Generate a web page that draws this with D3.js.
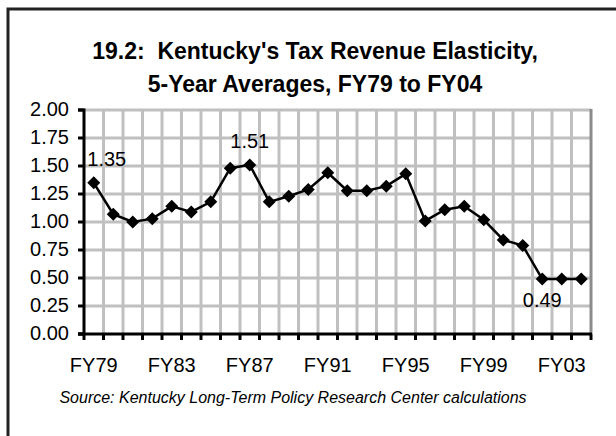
<!DOCTYPE html>
<html>
<head>
<meta charset="utf-8">
<script src="https://cdn.jsdelivr.net/npm/d3@7"></script>
<style>
  html, body { margin: 0; padding: 0; background: #fff; }
  svg { display: block; font-family: "Liberation Sans", Arial, sans-serif; }
</style>
</head>
<body>
<svg id="chart" width="616" height="436"></svg>
<script>
// Fiscal years and 5-year average elasticity values
const years = ["FY79","FY80","FY81","FY82","FY83","FY84","FY85","FY86","FY87","FY88",
               "FY89","FY90","FY91","FY92","FY93","FY94","FY95","FY96","FY97","FY98",
               "FY99","FY00","FY01","FY02","FY03","FY04"];
const elasticity = [1.35,1.07,1.00,1.03,1.14,1.09,1.18,1.48,1.51,1.18,
                    1.23,1.29,1.44,1.28,1.28,1.32,1.43,1.01,1.11,1.14,
                    1.02,0.84,0.79,0.49,0.49,0.49];
const yTicks = [0,0.25,0.5,0.75,1,1.25,1.5,1.75,2];
const xTickLabels = ["FY79","FY83","FY87","FY91","FY95","FY99","FY03"];
const titleLines = ["19.2:  Kentucky's Tax Revenue Elasticity,", "5-Year Averages, FY79 to FY04"];
const sourceNote = "Source: Kentucky Long-Term Policy Research Center calculations";
// labelled points: category index and label placement
const labelled = [{i: 0, pos: "leftAbove"}, {i: 8, pos: "above"}, {i: 23, pos: "below"}];

const svg = d3.select("#chart");
const plot = {left: 84, right: 591, top: 110, bottom: 334};

const x = d3.scaleBand().domain(years).range([plot.left, plot.right]).padding(0);
const y = d3.scaleLinear().domain([0, 2]).range([plot.bottom, plot.top]);

// outer frame (top and left edges)
svg.append("path")
  .attr("d", "M8,436 V9 H616")
  .attr("fill", "none").attr("stroke", "#222").attr("stroke-width", 3);

// gridlines, drawn inside a group anchored at the plot's top-left corner
const grid = svg.append("g").attr("transform", `translate(0,${plot.top})`);
grid.selectAll("line.h").data(yTicks.filter(v => v > 0)).join("line").attr("class", "h")
  .attr("x1", plot.left).attr("x2", plot.right)
  .attr("y1", d => y(d) - plot.top).attr("y2", d => y(d) - plot.top)
  .attr("stroke", "#c0c0c0").attr("stroke-width", 3);
grid.selectAll("line.v").data(years.slice(1)).join("line").attr("class", "v")
  .attr("x1", d => x(d)).attr("x2", d => x(d))
  .attr("y1", 0).attr("y2", plot.bottom - plot.top)
  .attr("stroke", "#c0c0c0").attr("stroke-width", 3);

// right edge of plot area
svg.append("line")
  .attr("x1", plot.right).attr("x2", plot.right)
  .attr("y1", plot.top - 1).attr("y2", plot.bottom)
  .attr("stroke", "#8c8c8c").attr("stroke-width", 3);

// title
svg.append("g").selectAll("text").data(titleLines).join("text")
  .attr("x", 315).attr("y", (d, i) => 59 + i * 33)
  .attr("text-anchor", "middle")
  .attr("font-size", 23).attr("font-weight", "bold").attr("fill", "#000")
  .style("white-space", "pre")
  .text(d => d);

// y axis
const yAxis = svg.append("g")
  .attr("transform", `translate(${plot.left},0)`)
  .call(d3.axisLeft(y).tickValues(yTicks).tickFormat(d3.format(".2f")).tickSize(6).tickPadding(9).offset(0));
yAxis.select(".domain").attr("stroke", "#000").attr("stroke-width", 3);
yAxis.selectAll(".tick line").attr("stroke", "#000").attr("stroke-width", 3);
yAxis.selectAll(".tick text").attr("font-size", 20).attr("font-family", "Liberation Sans, Arial, sans-serif").attr("fill", "#000");

// x axis: tick marks at category boundaries, labels every fourth year
const boundaries = years.map(d => x(d)).concat([plot.right]);
svg.append("g").selectAll("line").data(boundaries).join("line")
  .attr("x1", d => d).attr("x2", d => d)
  .attr("y1", plot.bottom).attr("y2", plot.bottom + 6)
  .attr("stroke", "#000").attr("stroke-width", 3);
svg.append("line")
  .attr("x1", plot.left - 6).attr("x2", plot.right + 1)
  .attr("y1", plot.bottom).attr("y2", plot.bottom)
  .attr("stroke", "#000").attr("stroke-width", 3);
svg.append("g").selectAll("text").data(xTickLabels).join("text")
  .attr("x", d => x(d) + x.bandwidth() / 2).attr("y", 372)
  .attr("text-anchor", "middle").attr("font-size", 20).attr("fill", "#000")
  .text(d => d);

// series line
const pts = years.map((d, i) => ({year: d, v: elasticity[i], cx: x(d) + x.bandwidth() / 2}));
svg.append("path").datum(pts)
  .attr("d", d3.line().x(d => d.cx).y(d => y(d.v)))
  .attr("fill", "none").attr("stroke", "#000").attr("stroke-width", 2.5);

// diamond markers
svg.append("g").selectAll("path").data(pts).join("path")
  .attr("transform", d => `translate(${d.cx},${y(d.v)})`)
  .attr("d", "M0,-6.5 L6.5,0 L0,6.5 L-6.5,0 Z")
  .attr("fill", "#000");

// value labels
svg.append("g").selectAll("text").data(labelled).join("text")
  .attr("x", d => pts[d.i].cx + (d.pos === "leftAbove" ? 13 : 0))
  .attr("y", d => y(pts[d.i].v) + (d.pos === "below" ? 28 : -17))
  .attr("text-anchor", "middle").attr("font-size", 20).attr("fill", "#000")
  .text(d => d3.format(".2f")(pts[d.i].v));

// source note
svg.append("text")
  .attr("x", 293).attr("y", 403)
  .attr("text-anchor", "middle").attr("font-size", 16).attr("font-style", "italic").attr("fill", "#000")
  .text(sourceNote);
</script>
</body>
</html>
